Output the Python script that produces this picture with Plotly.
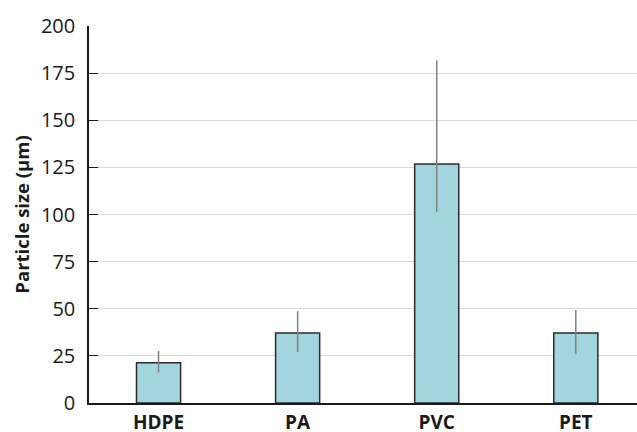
import plotly.graph_objects as go

# Mean particle size per polymer type, with upper / lower error extents
polymers = ["HDPE", "PA", "PVC", "PET"]
mean_size = [21.4, 37.1, 126.8, 37.2]
err_plus = [6.3, 11.6, 54.9, 12.1]
err_minus = [5.1, 10.1, 25.4, 11.4]
y_ticks = [0, 25, 50, 75, 100, 125, 150, 175, 200]

FONT = "'Open Sans', sans-serif"

fig = go.Figure(
    go.Bar(
        x=polymers,
        y=mean_size,
        width=0.317,
        marker=dict(color="#a3d5df", line=dict(color="#2b2b2b", width=1.5)),
        error_y=dict(
            type="data",
            symmetric=False,
            array=err_plus,
            arrayminus=err_minus,
            color="#808080",
            thickness=1.5,
            width=0,
        ),
    )
)

fig.update_layout(
    width=637,
    height=432,
    margin=dict(l=89, r=0, t=26, b=29),
    plot_bgcolor="white",
    paper_bgcolor="white",
    showlegend=False,
    font=dict(family=FONT, color="#1a1a1a"),
)

fig.update_xaxes(
    range=[-0.5, 3.44],
    automargin=False,
    showline=True,
    linecolor="#1a1a1a",
    linewidth=1.5,
    showgrid=False,
    ticks="",
    ticklabelstandoff=1,
    tickfont=dict(size=19, family=FONT, weight="bold"),
)

fig.update_yaxes(
    range=[0, 200],
    automargin=False,
    tickvals=y_ticks,
    showline=True,
    linecolor="#1a1a1a",
    linewidth=1.5,
    showgrid=True,
    gridcolor="#d9d9d9",
    gridwidth=1.2,
    zeroline=False,
    ticks="inside",
    ticklen=9,
    tickcolor="#1a1a1a",
    tickwidth=1.2,
    ticklabelstandoff=8,
    tickfont=dict(size=20, family=FONT),
    title=dict(
        text="Particle size (μm)",
        font=dict(size=18.5, family=FONT, weight="bold"),
        standoff=6,
    ),
)

fig.write_html("out.html")
